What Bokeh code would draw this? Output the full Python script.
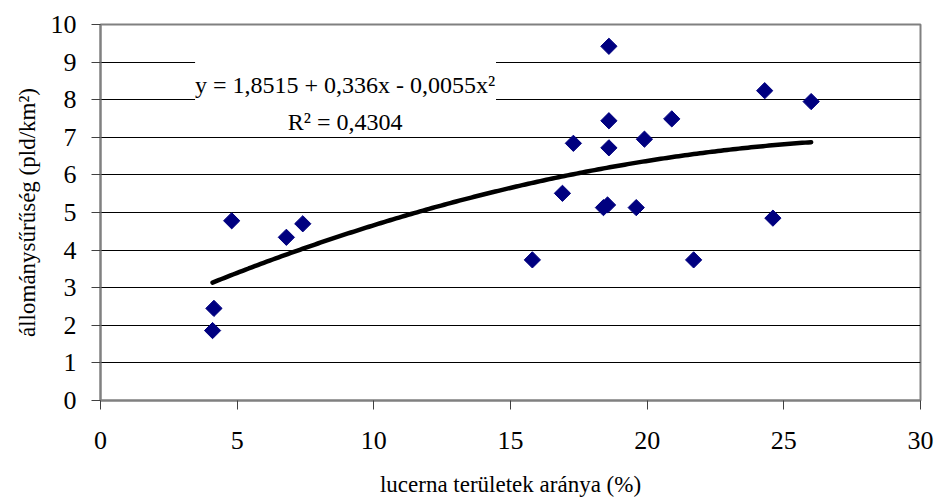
import numpy as np
from bokeh.plotting import figure
from bokeh.models import Range1d, Label, BoxAnnotation, FixedTicker
from bokeh.embed import file_html
from bokeh.resources import INLINE

# data
lucerna_pct = [4.1, 4.15, 4.8, 6.8, 7.4, 15.8, 16.9, 17.3, 18.4, 18.55,
               18.6, 18.6, 18.6, 19.6, 19.9, 20.9, 21.7, 24.3, 24.6, 26.0]
density = [1.86, 2.45, 4.78, 4.34, 4.70, 3.74, 5.51, 6.84, 5.13, 5.20,
           6.72, 7.44, 9.42, 5.13, 6.95, 7.49, 3.74, 8.24, 4.85, 7.95]

# trendline coefficients (y = a + b x + c x^2), as printed on the chart
trend_coef = [1.8515, 0.336, -0.0055]
eq_text = "y = 1,8515 + 0,336x - 0,0055x²"
r2_text = "R² = 0,4304"

x_ticks = [0, 5, 10, 15, 20, 25, 30]
y_ticks = list(range(0, 11))

FONT = "Liberation Serif"
AXFONT = "'Liberation Serif', 'Times New Roman', serif"

p = figure(width=938, height=500, output_backend="svg", toolbar_location=None,
           x_range=Range1d(0, 30), y_range=Range1d(0, 10),
           min_border_left=100, min_border_right=18, min_border_top=24,
           min_border_bottom=100)
p.background_fill_color = "white"
p.border_fill_color = "white"
p.outline_line_color = "#808080"
p.outline_line_width = 2

# grid
p.xgrid.visible = False
p.ygrid.grid_line_color = "black"
p.ygrid.grid_line_width = 1
p.ygrid.ticker = FixedTicker(ticks=y_ticks)

# axes
p.xaxis.ticker = FixedTicker(ticks=x_ticks)
p.yaxis.ticker = FixedTicker(ticks=y_ticks)
for ax in (p.xaxis[0], p.yaxis[0]):
    ax.axis_line_color = "#808080"
    ax.axis_line_width = 2
    ax.major_tick_line_color = "#404040"
    ax.major_tick_line_width = 1
    ax.major_tick_in = 0
    ax.major_tick_out = 9
    ax.minor_tick_line_color = None
    ax.major_label_text_font = AXFONT
    ax.major_label_text_font_size = "26px"
    ax.major_label_text_color = "black"
    ax.axis_label_text_font = AXFONT
    ax.axis_label_text_font_size = "23px"
    ax.axis_label_text_font_style = "normal"
    ax.axis_label_text_color = "black"

p.xaxis.axis_label = "lucerna területek aránya (%)"
p.yaxis.axis_label = "állománysűrűség (pld/km²)"
p.xaxis.major_label_standoff = 22
p.xaxis.axis_label_standoff = 20
p.yaxis.major_label_standoff = 15
p.yaxis.axis_label_standoff = 8

# trendline
xs = np.linspace(min(lucerna_pct), max(lucerna_pct), 200)
ys = trend_coef[0] + trend_coef[1] * xs + trend_coef[2] * xs ** 2
p.line(xs, ys, line_color="black", line_width=4.5, line_cap="round")

# points
p.scatter(lucerna_pct, density, marker="square", angle=np.pi / 4, size=11.5,
          fill_color="#000080", line_color="#000080")

# equation box
box = BoxAnnotation(left=3.46, right=14.47, top=9.15, bottom=7.2,
                    fill_color="white", fill_alpha=1.0, line_alpha=0)
p.add_layout(box)
p.add_layout(Label(x=8.95, y=8.38, text=eq_text, text_align="center",
                   text_baseline="alphabetic", text_font=FONT,
                   text_font_size="24px", text_color="black"))
p.add_layout(Label(x=8.95, y=7.4, text=r2_text, text_align="center",
                   text_baseline="alphabetic", text_font=FONT,
                   text_font_size="24px", text_color="black"))

open("out.html", "w").write(file_html(p, INLINE))
